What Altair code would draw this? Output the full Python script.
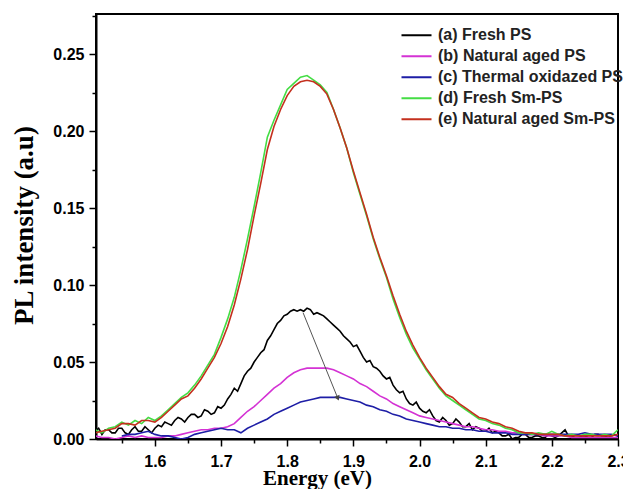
import math
import altair as alt
import pandas as pd

# ---- data ----
energy = [round(1.51 + 0.01 * i, 2) for i in range(80)]
energy_fine = [round(1.51 + 0.005 * i, 3) for i in range(159)]

fresh_ps = [
    .005, .007, .003, .006, .006, .004, .004, .007, .007, .004,
    .003, .006, .008, .005, .005, .008, .006, .004, .007, .009,
    .008, .011, .010, .009, .012, .014, .013, .011, .014, .016,
    .016, .014, .015, .019, .018, .016, .017, .021, .020, .022,
    .026, .029, .033, .031, .036, .041, .044, .046, .050, .053,
    .056, .058, .064, .067, .071, .075, .077, .080, .081, .083,
    .084, .083, .084, .083, .085, .084, .081, .082, .081, .080,
    .078, .076, .074, .072, .070, .067, .065, .063, .060, .061,
    .057, .053, .050, .051, .047, .046, .044, .041, .039, .040,
    .035, .032, .030, .031, .026, .023, .022, .024, .020, .018,
    .017, .019, .015, .012, .011, .014, .012, .009, .010, .013,
    .011, .008, .008, .010, .006, .008, .007, .005, .005, .007,
    .004, .005, .004, .002, .002, .003, .000, .001, .001, .003,
    .003, .001, .001, .002, .002, .001, .001, .003, .002, .001,
    .002, .004, .006, .002, .002, .001, .001, .002, .002, .001,
    .001, .003, .003, .002, .002, .001, .002, .003, .002,
]

natural_aged_ps = [
    .002, .001, .001, .000, .001, .002, .001, .002, .001, .001,
    .001, .002, .002, .003, .004, .005, .006, .006, .007, .007,
    .008, .010, .014, .018, .021, .025, .029, .033, .036, .040,
    .043, .045, .046, .046, .046, .046, .045, .043, .041, .039,
    .036, .034, .031, .028, .026, .023, .021, .019, .017, .015,
    .014, .013, .012, .011, .010, .009, .008, .008, .007, .006,
    .006, .005, .005, .004, .004, .003, .003, .003, .002, .002,
    .002, .002, .001, .001, .001, .001, .001, .001, .001, .001,
]

thermal_energy = energy[4:]
thermal_oxidized_ps = [
    .002, .003, .003, .004, .005, .003,
    .002, .002, .001, .000, .001, .003, .004, .005, .006, .007,
    .006, .006, .004, .007, .009, .011, .013, .016, .018, .020,
    .022, .024, .025, .026, .027, .027, .027, .027, .026, .025,
    .024, .022, .021, .019, .018, .016, .015, .013, .012, .011,
    .010, .009, .008, .008, .007, .007, .006, .006, .005, .005,
    .004, .004, .004, .003, .003, .003, .003, .003, .003, .003,
    .003, .003, .003, .003, .004, .003, .003, .003, .003, .002,
]

fresh_sm_ps = [
    .006, .004, .007, .008, .011, .009, .012, .010, .014, .012,
    .015, .019, .023, .027, .030, .035, .041, .048, .055, .066,
    .078, .092, .110, .130, .151, .173, .196, .207, .217, .227,
    .231, .235, .236, .233, .230, .225, .214, .202, .189, .173,
    .159, .145, .130, .117, .105, .091, .079, .068, .059, .052,
    .045, .039, .033, .028, .025, .022, .019, .016, .013, .012,
    .010, .009, .007, .006, .004, .004, .003, .004, .003, .005,
    .003, .002, .003, .002, .003, .003, .002, .003, .002, .006,
]

natural_aged_sm_ps = [
    .004, .005, .006, .007, .010, .010, .009, .012, .012, .011,
    .014, .018, .022, .026, .028, .033, .039, .046, .053, .062,
    .073, .087, .104, .123, .145, .166, .188, .203, .214, .223,
    .229, .232, .233, .232, .229, .224, .214, .202, .189, .174,
    .160, .146, .131, .118, .106, .093, .081, .070, .061, .053,
    .046, .040, .034, .029, .027, .023, .020, .017, .014, .013,
    .011, .010, .008, .007, .005, .004, .004, .003, .003, .003,
    .003, .002, .002, .002, .002, .002, .002, .002, .002, .003,
]

series_names = [
    "(a) Fresh PS",
    "(b) Natural aged PS",
    "(c) Thermal oxidazed PS",
    "(d) Fresh Sm-PS",
    "(e) Natural aged Sm-PS",
]
series_colors = ["#000000", "#d432d4", "#1e1ea6", "#44dd44", "#c4301e"]

# arrow from peak (a) towards peak (c)
arrow_x = [1.824, 1.876]
arrow_y = [0.082, 0.027]

x_major_ticks = [1.6, 1.7, 1.8, 1.9, 2.0, 2.1, 2.2, 2.3]
x_minor_ticks = [1.55, 1.65, 1.75, 1.85, 1.95, 2.05, 2.15, 2.25]
y_major_ticks = [0.0, 0.05, 0.10, 0.15, 0.20, 0.25]
y_minor_ticks = [0.025, 0.075, 0.125, 0.175, 0.225, 0.275]

# ---- build table ----
rows = []
for name, xs, ys in [
    (series_names[0], energy_fine, fresh_ps),
    (series_names[1], energy, natural_aged_ps),
    (series_names[2], thermal_energy, thermal_oxidized_ps),
    (series_names[3], energy, fresh_sm_ps),
    (series_names[4], energy, natural_aged_sm_ps),
]:
    for xv, yv in zip(xs, ys):
        rows.append({"energy": xv, "pl": yv, "series": name})
df = pd.DataFrame(rows)

X_DOM = [1.511, 2.3]
Y_DOM = [0.0, 0.276]
W, H = 522, 425

xscale = alt.Scale(domain=X_DOM, nice=False, zero=False)
yscale = alt.Scale(domain=Y_DOM, nice=False, zero=False)

x_axis = alt.Axis(
    orient="bottom",
    values=x_major_ticks,
    format=".1f",
    tickSize=7,
    labelOverlap=False,
    labelFlush=False,
    labelPadding=7,
    title="Energy (eV)",
    titleX=221,
    titleY=45,
    titleBaseline="alphabetic",
    grid=False,
)
y_axis = alt.Axis(
    orient="left",
    values=y_major_ticks,
    format=".2f",
    tickSize=7,
    labelOverlap=False,
    labelFlush=False,
    labelPadding=5,
    title="PL intensity (a.u)",
    titleX=-64,
    titleY=211,
    titleBaseline="alphabetic",
    grid=False,
)
x_minor_axis = alt.Axis(
    orient="bottom", values=x_minor_ticks, tickSize=4, labels=False, domain=False, title=None, grid=False
)
y_minor_axis = alt.Axis(
    orient="left", values=y_minor_ticks, tickSize=4, labels=False, domain=False, title=None, grid=False
)

lines = alt.Chart(df).mark_line(strokeWidth=1.6, clip=True).encode(
    x=alt.X("energy:Q", scale=xscale, axis=x_axis),
    y=alt.Y("pl:Q", scale=yscale, axis=y_axis),
    color=alt.Color(
        "series:N",
        scale=alt.Scale(domain=series_names, range=series_colors),
        legend=alt.Legend(
            title=None,
            orient="none",
            legendX=304,
            legendY=11,
            symbolType="stroke",
            symbolStrokeWidth=2.2,
            symbolSize=900,
            labelFont="Liberation Sans",
            labelFontWeight="bold",
            labelFontSize=16,
            labelColor="#222222",
            labelOffset=5,
            labelLimit=0,
            clipHeight=20.5,
            rowPadding=0,
            padding=0,
        ),
    ),
)

arrow_df = pd.DataFrame({"x0": [arrow_x[0]], "y0": [arrow_y[0]], "x1": [arrow_x[1]], "y1": [arrow_y[1]]})
dx_px = (arrow_x[1] - arrow_x[0]) / (X_DOM[1] - X_DOM[0]) * W
dy_px = (arrow_y[0] - arrow_y[1]) / (Y_DOM[1] - Y_DOM[0]) * H
head_angle = 180 - math.degrees(math.atan2(dx_px, dy_px))

rule = alt.Chart(arrow_df).mark_rule(color="#555555", strokeWidth=1).encode(
    x=alt.X("x0:Q", scale=xscale, axis=x_minor_axis),
    y=alt.Y("y0:Q", scale=yscale, axis=y_minor_axis),
    x2="x1:Q",
    y2="y1:Q",
)
head = alt.Chart(arrow_df).mark_point(
    shape="triangle", filled=True, size=35, color="#444444", opacity=1, angle=head_angle
).encode(
    x=alt.X("x1:Q", scale=xscale, axis=None),
    y=alt.Y("y1:Q", scale=yscale, axis=None),
)

chart = (
    alt.layer(lines, rule, head)
    .resolve_axis(x="independent", y="independent")
    .properties(
        width=W,
        height=H,
        autosize=alt.AutoSizeParams(type="none"),
        padding={"left": 88, "top": 6, "right": 5, "bottom": 50},
    )
    .configure_view(stroke="black", strokeWidth=2)
    .configure_axis(
        domainColor="black",
        domainWidth=2,
        tickColor="black",
        tickWidth=1.5,
        labelFont="Liberation Sans",
        labelFontWeight="bold",
        labelFontSize=16,
        labelColor="black",
        titleFont="Liberation Serif",
        titleFontWeight="bold",
        titleColor="black",
    )
    .configure_axisX(titleFontSize=21)
    .configure_axisY(titleFontSize=27)
)

chart.save("out.html", embed_options={"renderer": "svg", "actions": False})
